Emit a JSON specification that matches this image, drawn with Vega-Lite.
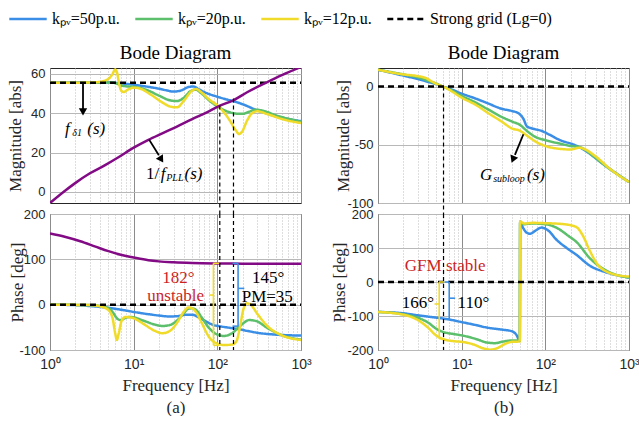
{
"$schema": "https://vega.github.io/schema/vega-lite/v6.json",
"background": "white",
"padding": {"left": 6, "top": -1, "right": 0, "bottom": 0},
"config": {
  "font": "Liberation Serif",
  "view": {"stroke": "#262626", "strokeWidth": 1},
  "title": {"font": "Liberation Serif", "fontSize": 19, "fontWeight": "normal", "color": "#000", "offset": 5},
  "axis": {"ticks": false, "domain": false, "labelFont": "Liberation Sans", "labelFontSize": 13, "labelColor": "#262626", "titleFont": "Liberation Serif", "titleFontSize": 17, "titleFontWeight": "normal", "titleColor": "#262626", "gridColor": "#b8b8b8", "gridOpacity": 1, "labelPadding": 5, "labelFlush": false, "labelOverlap": false, "labelBound": false}
},
"datasets": {
"lines": [
{"p":"am","s":"k50","f":1,"v":55.5},{"p":"am","s":"k50","f":3,"v":55.6},{"p":"am","s":"k50","f":5,"v":55.6},{"p":"am","s":"k50","f":7,"v":55.2},{"p":"am","s":"k50","f":10,"v":54.5},{"p":"am","s":"k50","f":14,"v":53.6},{"p":"am","s":"k50","f":20,"v":52.5},{"p":"am","s":"k50","f":25,"v":51.6},{"p":"am","s":"k50","f":30,"v":51},{"p":"am","s":"k50","f":38,"v":51.8},{"p":"am","s":"k50","f":45,"v":53.3},{"p":"am","s":"k50","f":52,"v":53.6},{"p":"am","s":"k50","f":60,"v":52.2},{"p":"am","s":"k50","f":75,"v":50.2},{"p":"am","s":"k50","f":100,"v":48.4},{"p":"am","s":"k50","f":130,"v":47},{"p":"am","s":"k50","f":160,"v":46},{"p":"am","s":"k50","f":200,"v":44.6},{"p":"am","s":"k50","f":300,"v":41.5},{"p":"am","s":"k50","f":500,"v":38.5},{"p":"am","s":"k50","f":1000,"v":36},
{"p":"am","s":"k20","f":1,"v":55.5},{"p":"am","s":"k20","f":4,"v":55.5},{"p":"am","s":"k20","f":5.3,"v":55.7},{"p":"am","s":"k20","f":6.2,"v":55.2},{"p":"am","s":"k20","f":7,"v":54.2},{"p":"am","s":"k20","f":8.5,"v":53.6},{"p":"am","s":"k20","f":10,"v":53.4},{"p":"am","s":"k20","f":14,"v":52},{"p":"am","s":"k20","f":20,"v":49},{"p":"am","s":"k20","f":27,"v":46.6},{"p":"am","s":"k20","f":33,"v":46.2},{"p":"am","s":"k20","f":40,"v":48},{"p":"am","s":"k20","f":48,"v":51.3},{"p":"am","s":"k20","f":55,"v":52},{"p":"am","s":"k20","f":65,"v":50},{"p":"am","s":"k20","f":80,"v":46.5},{"p":"am","s":"k20","f":100,"v":43.5},{"p":"am","s":"k20","f":130,"v":41},{"p":"am","s":"k20","f":170,"v":39.8},{"p":"am","s":"k20","f":200,"v":39.7},{"p":"am","s":"k20","f":240,"v":40.8},{"p":"am","s":"k20","f":290,"v":41.8},{"p":"am","s":"k20","f":350,"v":41.3},{"p":"am","s":"k20","f":500,"v":39},{"p":"am","s":"k20","f":1000,"v":35.7},
{"p":"am","s":"k12","f":1,"v":55.5},{"p":"am","s":"k12","f":3,"v":55.6},{"p":"am","s":"k12","f":4,"v":56},{"p":"am","s":"k12","f":5,"v":57.5},{"p":"am","s":"k12","f":5.6,"v":60},{"p":"am","s":"k12","f":6,"v":62.3},{"p":"am","s":"k12","f":6.3,"v":61},{"p":"am","s":"k12","f":6.7,"v":55},{"p":"am","s":"k12","f":7.1,"v":51.5},{"p":"am","s":"k12","f":7.6,"v":50.8},{"p":"am","s":"k12","f":8.5,"v":52},{"p":"am","s":"k12","f":10,"v":53},{"p":"am","s":"k12","f":12,"v":52.5},{"p":"am","s":"k12","f":16,"v":49.5},{"p":"am","s":"k12","f":22,"v":45.5},{"p":"am","s":"k12","f":28,"v":43.3},{"p":"am","s":"k12","f":33,"v":43},{"p":"am","s":"k12","f":40,"v":46.5},{"p":"am","s":"k12","f":50,"v":51.5},{"p":"am","s":"k12","f":56,"v":52.3},{"p":"am","s":"k12","f":65,"v":50.5},{"p":"am","s":"k12","f":80,"v":47},{"p":"am","s":"k12","f":100,"v":44},{"p":"am","s":"k12","f":120,"v":40.5},{"p":"am","s":"k12","f":140,"v":36.5},{"p":"am","s":"k12","f":165,"v":31.5},{"p":"am","s":"k12","f":182,"v":29.5},{"p":"am","s":"k12","f":200,"v":31},{"p":"am","s":"k12","f":225,"v":36},{"p":"am","s":"k12","f":260,"v":40},{"p":"am","s":"k12","f":300,"v":41},{"p":"am","s":"k12","f":400,"v":39.5},{"p":"am","s":"k12","f":600,"v":37},{"p":"am","s":"k12","f":1000,"v":35},
{"p":"am","s":"grid","f":1,"v":55.5},{"p":"am","s":"grid","f":1000,"v":55.5},
{"p":"am","s":"pll","f":1,"v":-5.6},{"p":"am","s":"pll","f":1.5,"v":0.5},{"p":"am","s":"pll","f":2,"v":4.5},{"p":"am","s":"pll","f":3,"v":9.5},{"p":"am","s":"pll","f":4.5,"v":13.5},{"p":"am","s":"pll","f":6.5,"v":17.5},{"p":"am","s":"pll","f":10,"v":22.5},{"p":"am","s":"pll","f":15,"v":26.5},{"p":"am","s":"pll","f":22,"v":29.8},{"p":"am","s":"pll","f":32,"v":33},{"p":"am","s":"pll","f":50,"v":37},{"p":"am","s":"pll","f":75,"v":40.5},{"p":"am","s":"pll","f":100,"v":43.3},{"p":"am","s":"pll","f":155,"v":46.6},{"p":"am","s":"pll","f":230,"v":50.8},{"p":"am","s":"pll","f":380,"v":55.5},{"p":"am","s":"pll","f":600,"v":59.5},{"p":"am","s":"pll","f":1000,"v":63.5},
{"p":"ap","s":"k50","f":1,"v":0},{"p":"ap","s":"k50","f":2,"v":-1},{"p":"ap","s":"k50","f":3,"v":-3},{"p":"ap","s":"k50","f":4,"v":-5},{"p":"ap","s":"k50","f":5,"v":-7},{"p":"ap","s":"k50","f":7,"v":-11},{"p":"ap","s":"k50","f":10,"v":-16},{"p":"ap","s":"k50","f":15,"v":-21},{"p":"ap","s":"k50","f":20,"v":-24},{"p":"ap","s":"k50","f":27,"v":-26},{"p":"ap","s":"k50","f":35,"v":-25},{"p":"ap","s":"k50","f":42,"v":-22},{"p":"ap","s":"k50","f":50,"v":-22},{"p":"ap","s":"k50","f":60,"v":-28},{"p":"ap","s":"k50","f":75,"v":-38},{"p":"ap","s":"k50","f":90,"v":-45},{"p":"ap","s":"k50","f":110,"v":-48},{"p":"ap","s":"k50","f":140,"v":-51},{"p":"ap","s":"k50","f":180,"v":-54},{"p":"ap","s":"k50","f":230,"v":-58},{"p":"ap","s":"k50","f":300,"v":-62},{"p":"ap","s":"k50","f":450,"v":-65.5},{"p":"ap","s":"k50","f":700,"v":-67.5},{"p":"ap","s":"k50","f":1000,"v":-68},
{"p":"ap","s":"k20","f":1,"v":0},{"p":"ap","s":"k20","f":3,"v":-1},{"p":"ap","s":"k20","f":4,"v":-3},{"p":"ap","s":"k20","f":5,"v":-8},{"p":"ap","s":"k20","f":5.7,"v":-18},{"p":"ap","s":"k20","f":6.3,"v":-30},{"p":"ap","s":"k20","f":7,"v":-34},{"p":"ap","s":"k20","f":8,"v":-29},{"p":"ap","s":"k20","f":9,"v":-27},{"p":"ap","s":"k20","f":10,"v":-28},{"p":"ap","s":"k20","f":13,"v":-35},{"p":"ap","s":"k20","f":18,"v":-44},{"p":"ap","s":"k20","f":22,"v":-47},{"p":"ap","s":"k20","f":27,"v":-45},{"p":"ap","s":"k20","f":33,"v":-35},{"p":"ap","s":"k20","f":40,"v":-18},{"p":"ap","s":"k20","f":45,"v":-9},{"p":"ap","s":"k20","f":50,"v":-8},{"p":"ap","s":"k20","f":56,"v":-12},{"p":"ap","s":"k20","f":65,"v":-28},{"p":"ap","s":"k20","f":80,"v":-52},{"p":"ap","s":"k20","f":100,"v":-66},{"p":"ap","s":"k20","f":120,"v":-69},{"p":"ap","s":"k20","f":150,"v":-63},{"p":"ap","s":"k20","f":190,"v":-46},{"p":"ap","s":"k20","f":240,"v":-34},{"p":"ap","s":"k20","f":290,"v":-36},{"p":"ap","s":"k20","f":400,"v":-52},{"p":"ap","s":"k20","f":600,"v":-68},{"p":"ap","s":"k20","f":1000,"v":-77},
{"p":"ap","s":"k12","f":1,"v":0},{"p":"ap","s":"k12","f":3,"v":-1},{"p":"ap","s":"k12","f":4,"v":-4},{"p":"ap","s":"k12","f":5,"v":-12},{"p":"ap","s":"k12","f":5.6,"v":-30},{"p":"ap","s":"k12","f":6,"v":-62},{"p":"ap","s":"k12","f":6.3,"v":-78},{"p":"ap","s":"k12","f":6.6,"v":-65},{"p":"ap","s":"k12","f":7.2,"v":-35},{"p":"ap","s":"k12","f":8,"v":-27},{"p":"ap","s":"k12","f":9,"v":-28},{"p":"ap","s":"k12","f":10,"v":-30},{"p":"ap","s":"k12","f":13,"v":-42},{"p":"ap","s":"k12","f":18,"v":-58},{"p":"ap","s":"k12","f":22,"v":-63},{"p":"ap","s":"k12","f":27,"v":-58},{"p":"ap","s":"k12","f":33,"v":-40},{"p":"ap","s":"k12","f":40,"v":-15},{"p":"ap","s":"k12","f":45,"v":-6},{"p":"ap","s":"k12","f":50,"v":-8},{"p":"ap","s":"k12","f":56,"v":-17},{"p":"ap","s":"k12","f":65,"v":-40},{"p":"ap","s":"k12","f":80,"v":-72},{"p":"ap","s":"k12","f":100,"v":-86},{"p":"ap","s":"k12","f":120,"v":-89},{"p":"ap","s":"k12","f":150,"v":-88},{"p":"ap","s":"k12","f":170,"v":-80},{"p":"ap","s":"k12","f":186,"v":-50},{"p":"ap","s":"k12","f":205,"v":-10},{"p":"ap","s":"k12","f":225,"v":3},{"p":"ap","s":"k12","f":250,"v":0},{"p":"ap","s":"k12","f":300,"v":-20},{"p":"ap","s":"k12","f":400,"v":-48},{"p":"ap","s":"k12","f":550,"v":-65},{"p":"ap","s":"k12","f":1000,"v":-78},
{"p":"ap","s":"grid","f":1,"v":0},{"p":"ap","s":"grid","f":1000,"v":0},
{"p":"ap","s":"pll","f":1,"v":157},{"p":"ap","s":"pll","f":1.5,"v":150},{"p":"ap","s":"pll","f":2.3,"v":140},{"p":"ap","s":"pll","f":3.5,"v":128},{"p":"ap","s":"pll","f":5,"v":118},{"p":"ap","s":"pll","f":7,"v":110},{"p":"ap","s":"pll","f":10,"v":104},{"p":"ap","s":"pll","f":15,"v":98},{"p":"ap","s":"pll","f":20,"v":95.5},{"p":"ap","s":"pll","f":30,"v":93.5},{"p":"ap","s":"pll","f":50,"v":92},{"p":"ap","s":"pll","f":100,"v":91},{"p":"ap","s":"pll","f":200,"v":90.5},{"p":"ap","s":"pll","f":1000,"v":90},
{"p":"bm","s":"k50","f":1,"v":14.5},{"p":"bm","s":"k50","f":2,"v":9.5},{"p":"bm","s":"k50","f":3,"v":6.5},{"p":"bm","s":"k50","f":4,"v":4},{"p":"bm","s":"k50","f":5,"v":2},{"p":"bm","s":"k50","f":6,"v":0},{"p":"bm","s":"k50","f":7,"v":-1.5},{"p":"bm","s":"k50","f":10,"v":-6},{"p":"bm","s":"k50","f":15,"v":-10.5},{"p":"bm","s":"k50","f":20,"v":-14},{"p":"bm","s":"k50","f":30,"v":-19},{"p":"bm","s":"k50","f":40,"v":-21},{"p":"bm","s":"k50","f":48,"v":-23},{"p":"bm","s":"k50","f":55,"v":-28},{"p":"bm","s":"k50","f":60,"v":-34},{"p":"bm","s":"k50","f":70,"v":-36},{"p":"bm","s":"k50","f":90,"v":-38},{"p":"bm","s":"k50","f":110,"v":-41},{"p":"bm","s":"k50","f":150,"v":-46},{"p":"bm","s":"k50","f":230,"v":-50.5},{"p":"bm","s":"k50","f":300,"v":-55},{"p":"bm","s":"k50","f":500,"v":-67},{"p":"bm","s":"k50","f":1000,"v":-82},
{"p":"bm","s":"k20","f":1,"v":14.5},{"p":"bm","s":"k20","f":2,"v":10.5},{"p":"bm","s":"k20","f":3,"v":8},{"p":"bm","s":"k20","f":4,"v":5},{"p":"bm","s":"k20","f":5,"v":2.5},{"p":"bm","s":"k20","f":6,"v":0},{"p":"bm","s":"k20","f":7,"v":-2},{"p":"bm","s":"k20","f":10,"v":-8},{"p":"bm","s":"k20","f":15,"v":-14},{"p":"bm","s":"k20","f":20,"v":-19},{"p":"bm","s":"k20","f":30,"v":-26},{"p":"bm","s":"k20","f":40,"v":-30},{"p":"bm","s":"k20","f":50,"v":-33},{"p":"bm","s":"k20","f":60,"v":-38},{"p":"bm","s":"k20","f":75,"v":-43},{"p":"bm","s":"k20","f":100,"v":-46},{"p":"bm","s":"k20","f":150,"v":-49},{"p":"bm","s":"k20","f":200,"v":-51},{"p":"bm","s":"k20","f":260,"v":-52},{"p":"bm","s":"k20","f":350,"v":-58},{"p":"bm","s":"k20","f":500,"v":-67},{"p":"bm","s":"k20","f":1000,"v":-82},
{"p":"bm","s":"k12","f":1,"v":14.5},{"p":"bm","s":"k12","f":2,"v":10.5},{"p":"bm","s":"k12","f":3,"v":9},{"p":"bm","s":"k12","f":3.7,"v":7.5},{"p":"bm","s":"k12","f":4.5,"v":4},{"p":"bm","s":"k12","f":5.3,"v":1.5},{"p":"bm","s":"k12","f":6,"v":0},{"p":"bm","s":"k12","f":7,"v":-2.5},{"p":"bm","s":"k12","f":10,"v":-9.5},{"p":"bm","s":"k12","f":15,"v":-16},{"p":"bm","s":"k12","f":20,"v":-22},{"p":"bm","s":"k12","f":30,"v":-30},{"p":"bm","s":"k12","f":40,"v":-36},{"p":"bm","s":"k12","f":50,"v":-38},{"p":"bm","s":"k12","f":60,"v":-42},{"p":"bm","s":"k12","f":80,"v":-48},{"p":"bm","s":"k12","f":100,"v":-51},{"p":"bm","s":"k12","f":150,"v":-53.5},{"p":"bm","s":"k12","f":200,"v":-54},{"p":"bm","s":"k12","f":260,"v":-52.5},{"p":"bm","s":"k12","f":300,"v":-54},{"p":"bm","s":"k12","f":400,"v":-60},{"p":"bm","s":"k12","f":600,"v":-71},{"p":"bm","s":"k12","f":1000,"v":-82},
{"p":"bm","s":"grid","f":1,"v":0},{"p":"bm","s":"grid","f":1000,"v":0},
{"p":"bp","s":"k50","f":1,"v":-88},{"p":"bp","s":"k50","f":2,"v":-92},{"p":"bp","s":"k50","f":3,"v":-98},{"p":"bp","s":"k50","f":4,"v":-102},{"p":"bp","s":"k50","f":5,"v":-105},{"p":"bp","s":"k50","f":7,"v":-110},{"p":"bp","s":"k50","f":10,"v":-118},{"p":"bp","s":"k50","f":15,"v":-127},{"p":"bp","s":"k50","f":20,"v":-134},{"p":"bp","s":"k50","f":30,"v":-140},{"p":"bp","s":"k50","f":40,"v":-145},{"p":"bp","s":"k50","f":45,"v":-155},{"p":"bp","s":"k50","f":49.5,"v":-172},{"p":"bp","s":"k50","f":50,"v":178},{"p":"bp","s":"k50","f":54,"v":160},{"p":"bp","s":"k50","f":60,"v":145},{"p":"bp","s":"k50","f":66,"v":142},{"p":"bp","s":"k50","f":75,"v":150},{"p":"bp","s":"k50","f":90,"v":160},{"p":"bp","s":"k50","f":110,"v":150},{"p":"bp","s":"k50","f":135,"v":125},{"p":"bp","s":"k50","f":180,"v":100},{"p":"bp","s":"k50","f":235,"v":80},{"p":"bp","s":"k50","f":340,"v":48},{"p":"bp","s":"k50","f":540,"v":28},{"p":"bp","s":"k50","f":1000,"v":13},
{"p":"bp","s":"k20","f":1,"v":-88},{"p":"bp","s":"k20","f":2,"v":-95},{"p":"bp","s":"k20","f":3,"v":-105},{"p":"bp","s":"k20","f":4,"v":-120},{"p":"bp","s":"k20","f":5,"v":-138},{"p":"bp","s":"k20","f":6,"v":-147},{"p":"bp","s":"k20","f":8,"v":-153},{"p":"bp","s":"k20","f":10,"v":-157},{"p":"bp","s":"k20","f":15,"v":-168},{"p":"bp","s":"k20","f":20,"v":-178},{"p":"bp","s":"k20","f":25,"v":-180},{"p":"bp","s":"k20","f":30,"v":-176},{"p":"bp","s":"k20","f":40,"v":-172},{"p":"bp","s":"k20","f":49.5,"v":-172},{"p":"bp","s":"k20","f":50,"v":175},{"p":"bp","s":"k20","f":55,"v":170},{"p":"bp","s":"k20","f":70,"v":172},{"p":"bp","s":"k20","f":100,"v":170},{"p":"bp","s":"k20","f":140,"v":158},{"p":"bp","s":"k20","f":190,"v":135},{"p":"bp","s":"k20","f":235,"v":118},{"p":"bp","s":"k20","f":340,"v":70},{"p":"bp","s":"k20","f":540,"v":33},{"p":"bp","s":"k20","f":1000,"v":13},
{"p":"bp","s":"k12","f":1,"v":-88},{"p":"bp","s":"k12","f":2,"v":-96},{"p":"bp","s":"k12","f":3,"v":-112},{"p":"bp","s":"k12","f":4,"v":-135},{"p":"bp","s":"k12","f":5,"v":-158},{"p":"bp","s":"k12","f":6,"v":-168},{"p":"bp","s":"k12","f":8,"v":-174},{"p":"bp","s":"k12","f":10,"v":-176},{"p":"bp","s":"k12","f":14,"v":-184},{"p":"bp","s":"k12","f":18,"v":-195},{"p":"bp","s":"k12","f":22,"v":-199},{"p":"bp","s":"k12","f":27,"v":-194},{"p":"bp","s":"k12","f":33,"v":-182},{"p":"bp","s":"k12","f":40,"v":-176},{"p":"bp","s":"k12","f":49.5,"v":-175},{"p":"bp","s":"k12","f":50,"v":178},{"p":"bp","s":"k12","f":56,"v":172},{"p":"bp","s":"k12","f":70,"v":174},{"p":"bp","s":"k12","f":100,"v":173},{"p":"bp","s":"k12","f":150,"v":171},{"p":"bp","s":"k12","f":200,"v":167},{"p":"bp","s":"k12","f":240,"v":160},{"p":"bp","s":"k12","f":280,"v":137},{"p":"bp","s":"k12","f":340,"v":92},{"p":"bp","s":"k12","f":440,"v":46},{"p":"bp","s":"k12","f":700,"v":21},{"p":"bp","s":"k12","f":1000,"v":16},
{"p":"bp","s":"grid","f":1,"v":0},{"p":"bp","s":"grid","f":1000,"v":0}
],
"segs": [
{"p":"am","k":"arrow","f":2.48,"v":55.5,"f2":2.48,"v2":42},
{"p":"am","k":"arrow","f":15.3,"v":26.6,"f2":20,"v2":18.7},
{"p":"bm","k":"arrow","f":54.7,"v":-40.9,"f2":43.3,"v2":-58.6},
{"p":"ap","k":"yb","f":105,"v":91.2,"f2":89.8,"v2":91.2},
{"p":"ap","k":"yb","f":89.8,"v":91.2,"f2":89.8,"v2":-89.7},
{"p":"ap","k":"yb","f":89.8,"v":-89.7,"f2":105,"v2":-89.7},
{"p":"ap","k":"yb","f":89.8,"v":21.2,"f2":79.8,"v2":21.2},
{"p":"ap","k":"bb","f":152,"v":91,"f2":177,"v2":91},
{"p":"ap","k":"bb","f":177,"v":91,"f2":177,"v2":-47.4},
{"p":"ap","k":"bb","f":177,"v":-47.4,"f2":152,"v2":-47.4},
{"p":"ap","k":"bb","f":177,"v":35.9,"f2":210,"v2":35.9},
{"p":"bp","k":"yb","f":6.24,"v":0,"f2":5.39,"v2":0},
{"p":"bp","k":"yb","f":5.39,"v":0,"f2":5.39,"v2":-166.7},
{"p":"bp","k":"yb","f":5.39,"v":-166.7,"f2":6.24,"v2":-166.7},
{"p":"bp","k":"yb","f":5.39,"v":-64.6,"f2":4.74,"v2":-64.6},
{"p":"bp","k":"bb","f":6.24,"v":0,"f2":7.1,"v2":0},
{"p":"bp","k":"bb","f":7.1,"v":0,"f2":7.1,"v2":-109},
{"p":"bp","k":"bb","f":7.1,"v":-109,"f2":6.24,"v2":-109},
{"p":"bp","k":"bb","f":7.1,"v":-47.6,"f2":8.36,"v2":-47.6}
],
"vr": [
{"p":"am","f":107,"v":44,"v2":-11.2},{"p":"am","f":156,"v":47.5,"v2":-11.2},
{"p":"ap","f":107,"v":200,"v2":-100},{"p":"ap","f":156,"v":200,"v2":-100},
{"p":"bm","f":6.07,"v":0,"v2":-109.4},
{"p":"bp","f":6.07,"v":200,"v2":-200}
],
"heads": [
{"p":"am","h":"h1","f":2.48,"v":40.7},{"p":"am","h":"h2","f":21.4,"v":16.5},{"p":"bm","h":"h3","f":41,"v":-62.6}
],
"tx": [
{"p":"am","t":"f","f":1.51,"v":32.2,"k":"it"},{"p":"am","t":"δ1","f":1.85,"v":30.2,"k":"sub"},{"p":"am","t":"(s)","f":2.79,"v":32.2,"k":"it"},
{"p":"am","t":"1/","f":14,"v":9.3,"k":"nl"},{"p":"am","t":"f","f":21,"v":9.3,"k":"it"},{"p":"am","t":"PLL","f":24.5,"v":7.3,"k":"sub"},{"p":"am","t":"(s)","f":40.5,"v":9.3,"k":"it"},
{"p":"bm","t":"G","f":16.6,"v":-75.9,"k":"it"},{"p":"bm","t":"subloop","f":23.8,"v":-79.3,"k":"sub"},{"p":"bm","t":"(s)","f":60.5,"v":-75.9,"k":"it"},
{"p":"ap","t":"182°","f":34.3,"v":59.5,"k":"red"},{"p":"ap","t":"unstable","f":31.8,"v":18.5,"k":"red"},{"p":"ap","t":"145°","f":406,"v":59.5,"k":"blk"},{"p":"ap","t":"PM=35","f":395,"v":18,"k":"blk"},
{"p":"bp","t":"GFM stable","f":6.36,"v":46.4,"k":"red"},{"p":"bp","t":"166°","f":2.99,"v":-62.5,"k":"blk"},{"p":"bp","t":"110°","f":13.8,"v":-62.5,"k":"blk"}
]
},
"columns": 2,
"spacing": {"row": 11, "column": 77},
"bounds": "flush",
"concat": [
{"width": 251, "height": 135, "title": "Bode Diagram",
 "encoding": {
  "x": {"field":"f","type":"quantitative","scale":{"type":"log","domain":[1,1000]},"axis":{"values":[1,2,3,4,5,6,7,8,9,10,20,30,40,50,60,70,80,90,100,200,300,400,500,600,700,800,900,1000],"labels":false,"title":null,"grid":true,"gridColor":{"condition":{"test":"indexof([1,10,100,1000],datum.value)>=0","value":"#8c8c8c"},"value":"#bdbdbd"},"gridDash":{"condition":{"test":"indexof([1,10,100,1000],datum.value)>=0","value":[]},"value":[1,2]}}},
  "y": {"field":"v","type":"quantitative","scale":{"domain":[-5.6,63],"nice":false,"zero":false},"axis":{"values":[0,20,40,60],"labelExpr":"''+datum.value","grid":true,"title":"Magnitude [abs]","titlePadding":6}}
 },
 "layer": [
  {"data":{"name":"lines"},"transform":[{"filter":"datum.p=='am' && datum.s!='pll'"}],"mark":{"type":"line","strokeWidth":2.5,"interpolate":"monotone","clip":true},
   "encoding":{"color":{"field":"s","type":"nominal","scale":{"domain":["k50","k20","k12","grid"],"range":["#3a8ee6","#5cbf6b","#f0db2a","#000000"]},"legend":{"title":null,"orient":"none","legendX":-42,"legendY":-69,"direction":"horizontal","symbolType":"stroke","symbolSize":1400,"symbolStrokeWidth":2.5,"labelFont":"Liberation Serif","labelFontSize":16,"labelColor":"#000","columnPadding":10,"labelOffset":4,"labelLimit":300,"labelExpr":"datum.label=='k50'?'kₚᵥ=50p.u.':datum.label=='k20'?'kₚᵥ=20p.u.':datum.label=='k12'?'kₚᵥ=12p.u.':'Strong grid (Lg=0)'"}},
    "strokeDash":{"field":"s","type":"nominal","scale":{"domain":["k50","k20","k12","grid"],"range":[[1,0],[1,0],[1,0],[6,4]]},"legend":{"title":null,"orient":"none","legendX":-42,"legendY":-69,"direction":"horizontal","symbolType":"stroke","symbolSize":1400,"symbolStrokeWidth":2.5,"labelFont":"Liberation Serif","labelFontSize":16,"labelColor":"#000","columnPadding":10,"labelOffset":4,"labelLimit":300,"labelExpr":"datum.label=='k50'?'kₚᵥ=50p.u.':datum.label=='k20'?'kₚᵥ=20p.u.':datum.label=='k12'?'kₚᵥ=12p.u.':'Strong grid (Lg=0)'"}}}},
  {"data":{"name":"lines"},"transform":[{"filter":"datum.p=='am' && datum.s=='pll'"}],"mark":{"type":"line","strokeWidth":2.5,"interpolate":"monotone","clip":true,"color":"#820a85"},"encoding":{}},
  {"data":{"name":"vr"},"transform":[{"filter":"datum.p=='am'"}],"mark":{"type":"rule","color":"#000","strokeWidth":1.2,"strokeDash":[4,3]},"encoding":{"y2":{"field":"v2"}}},
  {"data":{"name":"segs"},"transform":[{"filter":"datum.p=='am' && datum.k=='arrow'"}],"mark":{"type":"rule","color":"#000","strokeWidth":1.8},"encoding":{"x2":{"field":"f2"},"y2":{"field":"v2"}}},
  {"data":{"name":"heads"},"transform":[{"filter":"datum.h=='h1'"}],"mark":{"type":"point","shape":"triangle-down","filled":true,"color":"#000","size":70,"opacity":1},"encoding":{}},
  {"data":{"name":"heads"},"transform":[{"filter":"datum.h=='h2'"}],"mark":{"type":"point","shape":"triangle-down","filled":true,"color":"#000","size":70,"opacity":1,"angle":-32},"encoding":{}},
  {"data":{"name":"tx"},"transform":[{"filter":"datum.p=='am' && datum.k=='it'"}],"mark":{"type":"text","font":"Liberation Serif","fontStyle":"italic","fontSize":17,"align":"left","baseline":"middle","color":"#000"},"encoding":{"text":{"field":"t"}}},
  {"data":{"name":"tx"},"transform":[{"filter":"datum.p=='am' && datum.k=='sub'"}],"mark":{"type":"text","font":"Liberation Serif","fontStyle":"italic","fontSize":10,"align":"left","baseline":"middle","color":"#000"},"encoding":{"text":{"field":"t"}}},
  {"data":{"name":"tx"},"transform":[{"filter":"datum.p=='am' && datum.k=='nl'"}],"mark":{"type":"text","font":"Liberation Serif","fontSize":17,"align":"left","baseline":"middle","color":"#000"},"encoding":{"text":{"field":"t"}}}
 ]
},
{"width": 251, "height": 135, "title": "Bode Diagram",
 "encoding": {
  "x": {"field":"f","type":"quantitative","scale":{"type":"log","domain":[1,1000]},"axis":{"values":[1,2,3,4,5,6,7,8,9,10,20,30,40,50,60,70,80,90,100,200,300,400,500,600,700,800,900,1000],"labels":false,"title":null,"grid":true,"gridColor":{"condition":{"test":"indexof([1,10,100,1000],datum.value)>=0","value":"#8c8c8c"},"value":"#bdbdbd"},"gridDash":{"condition":{"test":"indexof([1,10,100,1000],datum.value)>=0","value":[]},"value":[1,2]}}},
  "y": {"field":"v","type":"quantitative","scale":{"domain":[-100,16],"nice":false,"zero":false},"axis":{"values":[-100,-50,0],"labelExpr":"''+datum.value","grid":true,"title":"Magnitude [abs]","titlePadding":-6}}
 },
 "layer": [
  {"data":{"name":"lines"},"transform":[{"filter":"datum.p=='bm'"}],"mark":{"type":"line","strokeWidth":2.5,"interpolate":"monotone","clip":true},
   "encoding":{"color":{"field":"s","type":"nominal","scale":{"domain":["k50","k20","k12","grid"],"range":["#3a8ee6","#5cbf6b","#f0db2a","#000000"]}},
    "strokeDash":{"field":"s","type":"nominal","scale":{"domain":["k50","k20","k12","grid"],"range":[[1,0],[1,0],[1,0],[6,4]]}}}},
  {"data":{"name":"vr"},"transform":[{"filter":"datum.p=='bm'"}],"mark":{"type":"rule","color":"#000","strokeWidth":1.2,"strokeDash":[4,3]},"encoding":{"y2":{"field":"v2"}}},
  {"data":{"name":"segs"},"transform":[{"filter":"datum.p=='bm' && datum.k=='arrow'"}],"mark":{"type":"rule","color":"#000","strokeWidth":1.8},"encoding":{"x2":{"field":"f2"},"y2":{"field":"v2"}}},
  {"data":{"name":"heads"},"transform":[{"filter":"datum.h=='h3'"}],"mark":{"type":"point","shape":"triangle-down","filled":true,"color":"#000","size":70,"opacity":1,"angle":22},"encoding":{}},
  {"data":{"name":"tx"},"transform":[{"filter":"datum.p=='bm' && datum.k=='it'"}],"mark":{"type":"text","font":"Liberation Serif","fontStyle":"italic","fontSize":17,"align":"left","baseline":"middle","color":"#000"},"encoding":{"text":{"field":"t"}}},
  {"data":{"name":"tx"},"transform":[{"filter":"datum.p=='bm' && datum.k=='sub'"}],"mark":{"type":"text","font":"Liberation Serif","fontStyle":"italic","fontSize":10,"align":"left","baseline":"middle","color":"#000"},"encoding":{"text":{"field":"t"}}}
 ]
},
{"width": 251, "height": 136,
 "encoding": {
  "x": {"field":"f","type":"quantitative","scale":{"type":"log","domain":[1,1000]},"axis":{"values":[1,2,3,4,5,6,7,8,9,10,20,30,40,50,60,70,80,90,100,200,300,400,500,600,700,800,900,1000],"labelExpr":"datum.value==1?'10⁰':datum.value==10?'10¹':datum.value==100?'10²':datum.value==1000?'10³':''","labelFontSize":14,"labelPadding":7,"title":["Frequency [Hz]","(a)"],"titlePadding":6,"titleLineHeight":22,"grid":true,"gridColor":{"condition":{"test":"indexof([1,10,100,1000],datum.value)>=0","value":"#8c8c8c"},"value":"#bdbdbd"},"gridDash":{"condition":{"test":"indexof([1,10,100,1000],datum.value)>=0","value":[]},"value":[1,2]}}},
  "y": {"field":"v","type":"quantitative","scale":{"domain":[-100,200],"nice":false,"zero":false},"axis":{"values":[-100,0,100,200],"labelExpr":"''+datum.value","grid":true,"title":"Phase [deg]","titlePadding":-8}}
 },
 "layer": [
  {"data":{"name":"lines"},"transform":[{"filter":"datum.p=='ap' && datum.s!='pll'"}],"mark":{"type":"line","strokeWidth":2.5,"interpolate":"monotone","clip":true},
   "encoding":{"color":{"field":"s","type":"nominal","scale":{"domain":["k50","k20","k12","grid"],"range":["#3a8ee6","#5cbf6b","#f0db2a","#000000"]}},
    "strokeDash":{"field":"s","type":"nominal","scale":{"domain":["k50","k20","k12","grid"],"range":[[1,0],[1,0],[1,0],[6,4]]}}}},
  {"data":{"name":"lines"},"transform":[{"filter":"datum.p=='ap' && datum.s=='pll'"}],"mark":{"type":"line","strokeWidth":2.5,"interpolate":"monotone","clip":true,"color":"#820a85"},"encoding":{}},
  {"data":{"name":"vr"},"transform":[{"filter":"datum.p=='ap'"}],"mark":{"type":"rule","color":"#000","strokeWidth":1.2,"strokeDash":[4,3]},"encoding":{"y2":{"field":"v2"}}},
  {"data":{"name":"segs"},"transform":[{"filter":"datum.p=='ap' && datum.k=='yb'"}],"mark":{"type":"rule","color":"#f0db2a","strokeWidth":1.6},"encoding":{"x2":{"field":"f2"},"y2":{"field":"v2"}}},
  {"data":{"name":"segs"},"transform":[{"filter":"datum.p=='ap' && datum.k=='bb'"}],"mark":{"type":"rule","color":"#3a8ee6","strokeWidth":1.6},"encoding":{"x2":{"field":"f2"},"y2":{"field":"v2"}}},
  {"data":{"name":"tx"},"transform":[{"filter":"datum.p=='ap' && datum.k=='red'"}],"mark":{"type":"text","font":"Liberation Serif","fontSize":17,"align":"center","baseline":"middle","color":"#cc1f1f"},"encoding":{"text":{"field":"t"}}},
  {"data":{"name":"tx"},"transform":[{"filter":"datum.p=='ap' && datum.k=='blk'"}],"mark":{"type":"text","font":"Liberation Serif","fontSize":17,"align":"center","baseline":"middle","color":"#000"},"encoding":{"text":{"field":"t"}}}
 ]
},
{"width": 251, "height": 136,
 "encoding": {
  "x": {"field":"f","type":"quantitative","scale":{"type":"log","domain":[1,1000]},"axis":{"values":[1,2,3,4,5,6,7,8,9,10,20,30,40,50,60,70,80,90,100,200,300,400,500,600,700,800,900,1000],"labelExpr":"datum.value==1?'10⁰':datum.value==10?'10¹':datum.value==100?'10²':datum.value==1000?'10³':''","labelFontSize":14,"labelPadding":7,"title":["Frequency [Hz]","(b)"],"titlePadding":6,"titleLineHeight":22,"grid":true,"gridColor":{"condition":{"test":"indexof([1,10,100,1000],datum.value)>=0","value":"#8c8c8c"},"value":"#bdbdbd"},"gridDash":{"condition":{"test":"indexof([1,10,100,1000],datum.value)>=0","value":[]},"value":[1,2]}}},
  "y": {"field":"v","type":"quantitative","scale":{"domain":[-200,200],"nice":false,"zero":false},"axis":{"values":[-200,-100,0,100,200],"labelExpr":"''+datum.value","grid":true,"title":"Phase [deg]","titlePadding":-2}}
 },
 "layer": [
  {"data":{"name":"lines"},"transform":[{"filter":"datum.p=='bp'"}],"mark":{"type":"line","strokeWidth":2.5,"interpolate":"monotone","clip":true},
   "encoding":{"color":{"field":"s","type":"nominal","scale":{"domain":["k50","k20","k12","grid"],"range":["#3a8ee6","#5cbf6b","#f0db2a","#000000"]}},
    "strokeDash":{"field":"s","type":"nominal","scale":{"domain":["k50","k20","k12","grid"],"range":[[1,0],[1,0],[1,0],[6,4]]}}}},
  {"data":{"name":"vr"},"transform":[{"filter":"datum.p=='bp'"}],"mark":{"type":"rule","color":"#000","strokeWidth":1.2,"strokeDash":[4,3]},"encoding":{"y2":{"field":"v2"}}},
  {"data":{"name":"segs"},"transform":[{"filter":"datum.p=='bp' && datum.k=='yb'"}],"mark":{"type":"rule","color":"#f0db2a","strokeWidth":1.6},"encoding":{"x2":{"field":"f2"},"y2":{"field":"v2"}}},
  {"data":{"name":"segs"},"transform":[{"filter":"datum.p=='bp' && datum.k=='bb'"}],"mark":{"type":"rule","color":"#3a8ee6","strokeWidth":1.6},"encoding":{"x2":{"field":"f2"},"y2":{"field":"v2"}}},
  {"data":{"name":"tx"},"transform":[{"filter":"datum.p=='bp' && datum.k=='red'"}],"mark":{"type":"text","font":"Liberation Serif","fontSize":17,"align":"center","baseline":"middle","color":"#cc1f1f"},"encoding":{"text":{"field":"t"}}},
  {"data":{"name":"tx"},"transform":[{"filter":"datum.p=='bp' && datum.k=='blk'"}],"mark":{"type":"text","font":"Liberation Serif","fontSize":17,"align":"center","baseline":"middle","color":"#000"},"encoding":{"text":{"field":"t"}}}
 ]
}
]
}
